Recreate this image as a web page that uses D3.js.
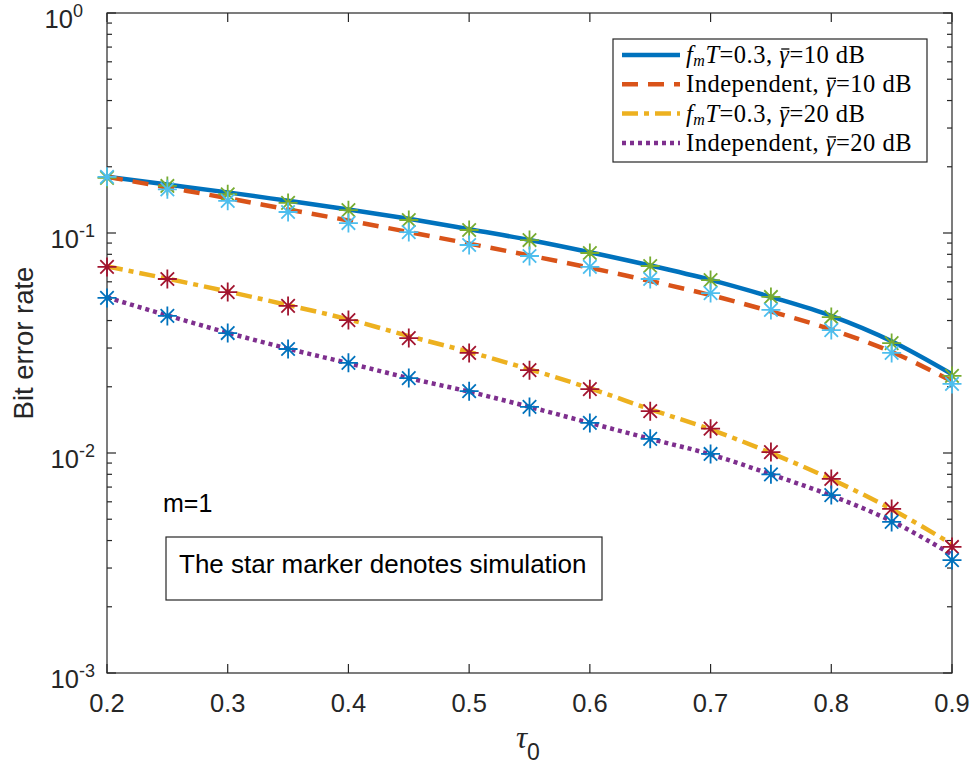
<!DOCTYPE html>
<html><head><meta charset="utf-8">
<script src="https://cdn.jsdelivr.net/npm/d3@7"></script>
<style>body{margin:0;background:#fff}</style>
</head><body><svg id="c" width="974" height="770"></svg>
<script>
const tau = [0.2,0.25,0.3,0.35,0.4,0.45,0.5,0.55,0.6,0.65,0.7,0.75,0.8,0.85,0.9];
// theory curves
const theoCorr10 = [0.180,0.166,0.153,0.140,0.128,0.116,0.104,0.0930,0.0818,0.0712,0.0612,0.0512,0.0420,0.0322,0.0228];
const theoInd10  = [0.180,0.161,0.144,0.128,0.114,0.101,0.0895,0.0790,0.0695,0.0605,0.0522,0.0440,0.0364,0.0288,0.0212];
const theoCorr20 = [0.0705,0.0620,0.0542,0.0470,0.0405,0.0340,0.0288,0.0240,0.0197,0.0158,0.0128,0.0100,0.00760,0.00555,0.00385];
const theoInd20  = [0.0510,0.0422,0.0352,0.0298,0.0256,0.0219,0.0190,0.0162,0.0137,0.0116,0.00985,0.00800,0.00640,0.00490,0.00345];
// simulation stars
const simCorr10 = [0.178,0.1636,0.150,0.137,0.127,0.1146,0.1032,0.0929,0.0811,0.0708,0.0611,0.0512,0.0415,0.0316,0.0224];
const simInd10  = [0.180,0.158,0.140,0.1246,0.111,0.101,0.0882,0.0786,0.0701,0.0618,0.0533,0.0447,0.0362,0.0285,0.0206];
const simCorr20 = [0.0701,0.0618,0.0539,0.0466,0.0402,0.0333,0.0285,0.0238,0.0195,0.0155,0.0129,0.0101,0.00762,0.00557,0.00374];
const simInd20  = [0.0507,0.0420,0.0351,0.0297,0.0257,0.0219,0.0191,0.0162,0.0137,0.0116,0.0099,0.0080,0.00644,0.00486,0.00326];
const xTicks = [0.2,0.3,0.4,0.5,0.6,0.7,0.8,0.9];
const yTickExp = [0,-1,-2,-3];
const legendLabels = [
  {pre:"f", sub:"m", mid:"T=0.3, ", db:"10 dB"},
  {pre:"", sub:"", mid:"Independent, ", db:"10 dB"},
  {pre:"f", sub:"m", mid:"T=0.3, ", db:"20 dB"},
  {pre:"", sub:"", mid:"Independent, ", db:"20 dB"}
];

const svg = d3.select("#c");
const L=107,R=952,T=13,B=673;
const x = d3.scaleLinear().domain([0.2,0.9]).range([L,R]);
const y = d3.scaleLog().domain([1e-3,1]).range([B,T]);
const axC="#262626";
const sans="'Liberation Sans', Arial, Helvetica, sans-serif";
const serif="'Liberation Serif','Times New Roman',serif";

// axes box
svg.append("rect").attr("x",L).attr("y",T).attr("width",R-L).attr("height",B-T)
  .attr("fill","none").attr("stroke",axC).attr("stroke-width",1.2);

// ticks
const g=svg.append("g").attr("stroke",axC).attr("stroke-width",1.2);
xTicks.forEach(t=>{
  const px=x(t);
  g.append("line").attr("x1",px).attr("x2",px).attr("y1",B).attr("y2",B-9);
  g.append("line").attr("x1",px).attr("x2",px).attr("y1",T).attr("y2",T+9);
});
const minorTicks=[];
for(let e=-3;e<0;e++) for(let k=1;k<10;k++) minorTicks.push({v:k*Math.pow(10,e),major:k===1});
minorTicks.push({v:1,major:true});
minorTicks.forEach(m=>{
  const py=y(m.v); const len=m.major?9:5;
  g.append("line").attr("x1",L).attr("x2",L+len).attr("y1",py).attr("y2",py);
  g.append("line").attr("x1",R).attr("x2",R-len).attr("y1",py).attr("y2",py);
});

// tick labels
xTicks.forEach(t=>{
  svg.append("text").attr("x",x(t)).attr("y",712).attr("text-anchor","middle")
    .attr("font-family",sans).attr("font-size",25.5).attr("fill",axC).text(d3.format(".1f")(t));
});
yTickExp.forEach(e=>{
  const tx=svg.append("text").attr("y",y(Math.pow(10,e))+15).attr("font-family",sans)
    .attr("font-size",25.5).attr("fill",axC).attr("text-anchor","end").attr("x", e<0?95:83);
  tx.append("tspan").text("10");
  tx.append("tspan").attr("font-size",18).attr("dy",-11).text(String(e));
});

// axis labels
svg.append("text").attr("transform","translate(33,343) rotate(-90)").attr("text-anchor","middle")
  .attr("font-family",sans).attr("font-size",27.5).attr("fill",axC).text("Bit error rate");
const xl=svg.append("text").attr("x",516).attr("y",748).attr("fill",axC);
xl.append("tspan").attr("font-family",serif).attr("font-style","italic").attr("font-size",31).text("τ");
xl.append("tspan").attr("font-family",sans).attr("font-size",23).attr("dy",12).text("0");

// lines
const colors={blue:"#0072BD",orange:"#D95319",yellow:"#EDB120",purple:"#7E2F8E",green:"#77AC30",lblue:"#4DBEEE",red:"#A2142F"};
const styles=[
  {data:theoCorr10,color:colors.blue,dash:null},
  {data:theoInd10,color:colors.orange,dash:"16,10"},
  {data:theoCorr20,color:colors.yellow,dash:"16,6,5,6"},
  {data:theoInd20,color:colors.purple,dash:"4,4"}
];
const line=d3.line().x(d=>x(d[0])).y(d=>y(d[1])).curve(d3.curveMonotoneX);
styles.forEach(s=>{
  svg.append("path").attr("d",line(tau.map((t,i)=>[t,s.data[i]])))
    .attr("fill","none").attr("stroke",s.color).attr("stroke-width",4.5)
    .attr("stroke-dasharray",s.dash);
});

// star markers
const asterisk={draw(ctx,size){const r=Math.sqrt(size)/2;const d=r*0.7071;
  ctx.moveTo(-r,0);ctx.lineTo(r,0);ctx.moveTo(0,-r);ctx.lineTo(0,r);
  ctx.moveTo(-d,-d);ctx.lineTo(d,d);ctx.moveTo(-d,d);ctx.lineTo(d,-d);}};
const star=d3.symbol().type(asterisk).size(19*19);
const sims=[
  {data:simCorr10,color:colors.green},
  {data:simInd10,color:colors.lblue},
  {data:simCorr20,color:colors.red},
  {data:simInd20,color:colors.blue}
];
sims.forEach(s=>{
  svg.append("g").selectAll("path").data(tau.map((t,i)=>[t,s.data[i]])).join("path")
    .attr("transform",d=>`translate(${x(d[0])},${y(d[1])})`).attr("d",star)
    .attr("fill","none").attr("stroke",s.color).attr("stroke-width",1.8);
});

// legend
svg.append("rect").attr("x",613).attr("y",39).attr("width",314).attr("height",123)
  .attr("fill","#fff").attr("stroke",axC).attr("stroke-width",1.2);
legendLabels.forEach((lab,i)=>{
  const ly=55+i*29.3;
  svg.append("line").attr("x1",622).attr("x2",680).attr("y1",ly).attr("y2",ly)
    .attr("stroke",styles[i].color).attr("stroke-width",4.5).attr("stroke-dasharray",styles[i].dash);
  const t=svg.append("text").attr("x",686).attr("y",ly+8).attr("font-family",serif)
    .attr("font-size",24.5).attr("letter-spacing",0.5).attr("fill","#000");
  if(lab.pre){
    t.append("tspan").attr("font-style","italic").text(lab.pre);
    t.append("tspan").attr("font-style","italic").attr("font-size",16).attr("dy",3).text(lab.sub);
    t.append("tspan").attr("font-style","italic").attr("dy",-3).text("T");
    t.append("tspan").text("=0.3, ");
  } else {
    t.append("tspan").text(lab.mid);
  }
  t.append("tspan").attr("font-style","italic").text("γ");
  t.append("tspan").text("="+lab.db);
  // bar over gamma
  const full=t.text(); const idx=full.indexOf("γ");
  const ext=t.node().getExtentOfChar(idx);
  svg.append("line").attr("x1",ext.x+2).attr("x2",ext.x+ext.width)
    .attr("y1",ly-6).attr("y2",ly-6).attr("stroke","#000").attr("stroke-width",1.3);
});

// annotations
svg.append("text").attr("x",163).attr("y",512).attr("font-family",sans).attr("font-size",25).attr("fill","#000").text("m=1");
svg.append("rect").attr("x",166).attr("y",537).attr("width",436).attr("height",63)
  .attr("fill","#fff").attr("stroke",axC).attr("stroke-width",1.2);
svg.append("text").attr("x",179).attr("y",573).attr("font-family",sans).attr("font-size",26).attr("fill","#000").text("The star marker denotes simulation");
</script></body></html>
